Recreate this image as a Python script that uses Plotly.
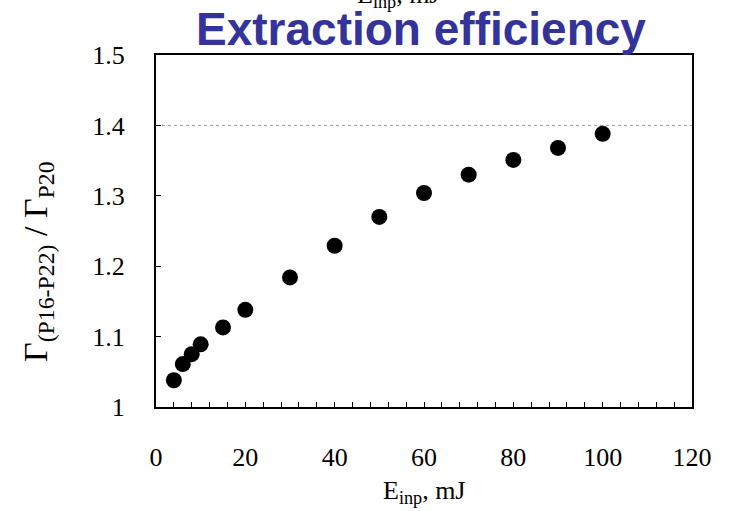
import plotly.graph_objects as go

# Data
E_inp = [4, 6, 8, 10, 15, 20, 30, 40, 50, 60, 70, 80, 90, 100]
ratio = [1.038, 1.061, 1.075, 1.089, 1.113, 1.138, 1.184, 1.229, 1.270, 1.304,
         1.330, 1.351, 1.368, 1.388]
x_ticks = [0, 20, 40, 60, 80, 100, 120]
y_ticks = [1, 1.1, 1.2, 1.3, 1.4, 1.5]
y_tick_text = ["1", "1.1", "1.2", "1.3", "1.4", "1.5"]
grid_y = 1.4

W, H = 729, 511
L, R, T, B = 156, 37, 55, 104
PH = H - T - B
PW = W - L - R

serif = "Liberation Serif, Times New Roman, serif"

fig = go.Figure()
fig.add_trace(go.Scatter(
    x=E_inp, y=ratio, mode="markers",
    marker=dict(size=16, color="black"),
    showlegend=False, cliponaxis=False,
))

fig.add_shape(type="line", xref="paper", x0=0, x1=1, yref="y", y0=grid_y, y1=grid_y,
              line=dict(color="#999999", width=1, dash="dot"), layer="below")

fig.update_layout(
    width=W, height=H,
    margin=dict(l=L, r=R, t=T, b=B),
    paper_bgcolor="white", plot_bgcolor="white",
    font=dict(family=serif, size=26, color="black"),
    xaxis=dict(
        range=[0, 120], tickvals=x_ticks, showgrid=False, zeroline=False,
        showline=True, linecolor="black", linewidth=2, mirror=True,
        ticks="inside", ticklen=5, tickwidth=1, tickcolor="black",
        minor=dict(dtick=4, ticks="inside", ticklen=5, tickwidth=1, tickcolor="black"),
        ticklabelstandoff=26,
        tickfont=dict(family=serif, size=26),
    ),
    yaxis=dict(
        range=[1, 1.5], tickvals=y_ticks, ticktext=y_tick_text,
        showgrid=False, zeroline=False,
        showline=True, linecolor="black", linewidth=2, mirror=True,
        ticks="inside", ticklen=5, tickwidth=1, tickcolor="black",
        ticklabelstandoff=24,
        tickfont=dict(family=serif, size=26),
    ),
)

# Clipped label at the very top (as in the reference)
fig.add_annotation(
    text="E<sub>inp</sub>, mJ", xref="paper", yref="paper",
    x=(398 - L) / PW, y=(H - B - 14) / PH,
    showarrow=False, xanchor="center", yanchor="bottom",
    font=dict(family=serif, size=26, color="black"),
)

# Title
fig.add_annotation(
    text="<b>Extraction efficiency</b>", xref="paper", yref="paper",
    x=(421 - L) / PW, y=(H - B - 29) / PH,
    showarrow=False, xanchor="center", yanchor="middle",
    font=dict(family="Liberation Sans, Arial, sans-serif", size=46, color="#333399"),
)

# X title
fig.add_annotation(
    text="E<sub>inp</sub>, mJ", xref="paper", yref="paper",
    x=0.5, y=-(492 - (H - B)) / PH,
    showarrow=False, xanchor="center", yanchor="middle",
    font=dict(family=serif, size=26, color="black"),
)

# Y title
fig.add_annotation(
    text="Γ<sub>(P16-P22)</sub> / Γ<sub>P20</sub>", xref="paper", yref="paper",
    x=0, xshift=-(L - 38), y=((H - B) - 262) / PH,
    showarrow=False, xanchor="center", yanchor="middle", textangle=-90,
    font=dict(family=serif, size=34, color="black"),
)

fig.write_html("out.html")
